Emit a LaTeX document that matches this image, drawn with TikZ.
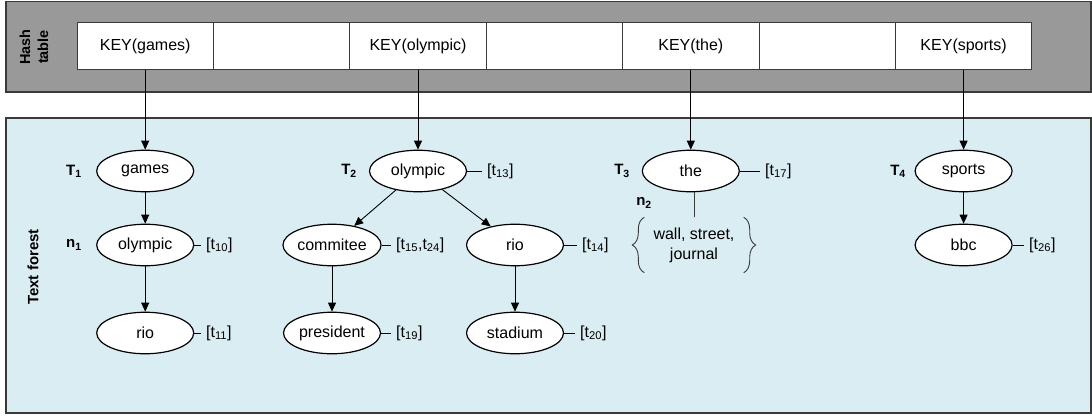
\documentclass[tikz,border=0pt]{standalone}
\usepackage{fontspec}
\setmainfont{Liberation Sans}
\usetikzlibrary{shapes.geometric,arrows.meta,decorations.pathreplacing}
\definecolor{hashgray}{HTML}{999999}
\definecolor{forestblue}{HTML}{DAEDF3}
\definecolor{framegray}{HTML}{3A3A3A}
\begin{document}
\begin{tikzpicture}[x=1pt,y=-1pt,
  txt/.style={font=\fontsize{16}{20}\selectfont},
  frame/.style={draw=framegray, line width=1.2pt},
  cell/.style={draw=framegray, line width=0.9pt, fill=white, minimum width=136.4pt,
    minimum height=46.3pt, inner sep=0pt, txt},
  word/.style={ellipse, draw=black, line width=1.2pt, fill=white, minimum width=97pt,
    minimum height=41.5pt, inner sep=0pt, txt},
  tag/.style={anchor=west, inner xsep=5pt, inner ysep=0pt, txt},
  tname/.style={inner sep=0pt, font=\bfseries\fontsize{15}{18}\selectfont},
  arr/.style={-{Triangle[length=9pt,width=8pt]}, line width=0.9pt},
  link/.style={line width=0.9pt},
  brace/.style={decorate, decoration={brace, amplitude=12pt}, draw=framegray, line width=0.9pt},
]
\useasboundingbox (0,0) rectangle (1092,417);

% panels
\draw[frame, fill=hashgray] (6,1.5) rectangle (1091,92);
\draw[frame, fill=forestblue] (6,118) rectangle (1091,413);
\node[tname, rotate=90, align=center, font=\bfseries\fontsize{14.5}{18}\selectfont] (hashlbl) at (34,47) {Hash\\table};
\node[tname, rotate=90] (forestlbl) at (33,267) {Text forest};

% hash table cells
\node[cell] (c1) at (145.2,46) {KEY(games)};
\node[cell] (c2) at (281.6,46) {};
\node[cell] (c3) at (418.0,46) {KEY(olympic)};
\node[cell] (c4) at (554.4,46) {};
\node[cell] (c5) at (690.8,46) {KEY(the)};
\node[cell] (c6) at (827.2,46) {};
\node[cell] (c7) at (963.6,46) {KEY(sports)};

% tree T1
\node[word] (games) at (145.2,171) {games};
\node[word] (olyA) at (145.2,245) {olympic};
\node[word] (rioA) at (145.2,333) {rio};
\node[tname] (T1) at (74,171) {T\textsubscript{1}};
\node[tname] (n1) at (74,245) {n\textsubscript{1}};
\node[tag] (t10) at (201,245) {[t\textsubscript{10}]};
\node[tag] (t11) at (201,333) {[t\textsubscript{11}]};

% tree T2
\node[word] (olyB) at (418,171) {olympic};
\node[word] (commitee) at (332,245) {commitee};
\node[word] (rioB) at (515,245) {rio};
\node[word] (president) at (332,333) {president};
\node[word] (stadium) at (515,333) {stadium};
\node[tname] (T2) at (349,171) {T\textsubscript{2}};
\node[tag] (t13) at (482,171) {[t\textsubscript{13}]};
\node[tag] (t15) at (391,245) {[t\textsubscript{15},t\textsubscript{24}]};
\node[tag] (t14) at (577,245) {[t\textsubscript{14}]};
\node[tag] (t19) at (391,333) {[t\textsubscript{19}]};
\node[tag] (t20) at (575,333) {[t\textsubscript{20}]};

% tree T3
\node[word] (the) at (690.8,171) {the};
\node[tname] (T3) at (622,171) {T\textsubscript{3}};
\node[tname] (n2) at (644,203) {n\textsubscript{2}};
\node[tag] (t17) at (760,171) {[t\textsubscript{17}]};
\node[txt, align=center, minimum width=99pt, minimum height=55pt, inner sep=0pt]
  (words) at (694,245) {wall, street,\\journal};

% tree T4
\node[word] (sports) at (963.6,171) {sports};
\node[word] (bbc) at (963.6,245) {bbc};
\node[tname] (T4) at (898,171) {T\textsubscript{4}};
\node[tag] (t26) at (1024,245) {[t\textsubscript{26}]};

% hash entries to tree roots
\draw[arr] (c1) -- (games);
\draw[arr] (c3) -- (olyB);
\draw[arr] (c5) -- (the);
\draw[arr] (c7) -- (sports);

% tree edges
\draw[arr] (games) -- (olyA);
\draw[arr] (olyA) -- (rioA);
\draw[arr] (olyB) -- (commitee);
\draw[arr] (olyB) -- (rioB);
\draw[arr] (commitee) -- (president);
\draw[arr] (rioB) -- (stadium);
\draw[arr] (sports) -- (bbc);

% node n2 with its word group
\draw[link, draw=framegray] (the.south -| words.north) -- (words.north);
\draw[brace] (words.south west) -- (words.north west);
\draw[brace] (words.north east) -- (words.south east);

% posting lists
\draw[link] (olyA) -- (t10);
\draw[link] (rioA) -- (t11);
\draw[link] (olyB) -- (t13);
\draw[link] (commitee) -- (t15);
\draw[link] (rioB) -- (t14);
\draw[link] (president) -- (t19);
\draw[link] (stadium) -- (t20);
\draw[link] (the) -- (t17);
\draw[link] (bbc) -- (t26);
\end{tikzpicture}
\end{document}
